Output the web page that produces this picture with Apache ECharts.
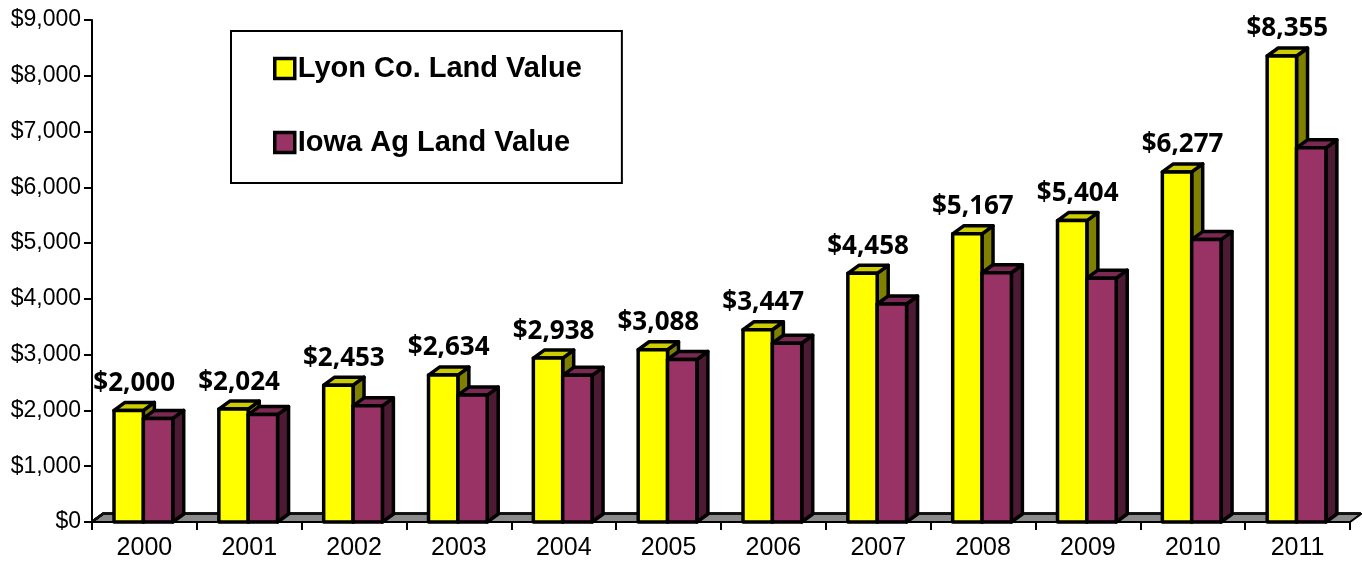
<!DOCTYPE html>
<html>
<head>
<meta charset="utf-8">
<script src="https://cdn.jsdelivr.net/npm/echarts@6/dist/echarts.min.js"></script>
<style>
  html, body { margin: 0; padding: 0; background: #fff; }
  #main { width: 1362px; height: 565px; }
</style>
</head>
<body>
<div id="main"></div>
<script>
var years = ['2000', '2001', '2002', '2003', '2004', '2005', '2006', '2007', '2008', '2009', '2010', '2011'];
var lyonValues = [2000, 2024, 2453, 2634, 2938, 3088, 3447, 4458, 5167, 5404, 6277, 8355];
var iowaValues = [1857, 1926, 2083, 2275, 2629, 2914, 3204, 3908, 4468, 4371, 5064, 6708];
var yTicks = [0, 1000, 2000, 3000, 4000, 5000, 6000, 7000, 8000, 9000];

// depth of the fake 3d look
var DX = 11, DY = 8;

function money(v) {
  return '$' + String(v).replace(/\B(?=(\d{3})+(?!\d))/g, ',');
}

function bar3d(api, idx, value, offset, colors, withLabel) {
  var top = api.coord([idx, value]);
  var base = api.coord([idx, 0]);
  var bw = api.size([1, 0])[0];
  var x0 = top[0] + offset * bw;
  var x1 = x0 + 0.28 * bw;
  var yT = top[1], yB = base[1];
  var stroke = { stroke: '#000', lineWidth: 3.5, lineJoin: 'round' };
  var kids = [
    { type: 'polygon', shape: { points: [[x1, yT], [x1 + DX, yT - DY], [x1 + DX, yB - DY], [x1, yB]] },
      style: Object.assign({ fill: colors[2] }, stroke) },
    { type: 'polygon', shape: { points: [[x0, yT], [x0 + DX, yT - DY], [x1 + DX, yT - DY], [x1, yT]] },
      style: Object.assign({ fill: colors[1] }, stroke) },
    { type: 'rect', shape: { x: x0, y: yT, width: x1 - x0, height: yB - yT },
      style: Object.assign({ fill: colors[0] }, stroke) }
  ];
  if (withLabel) {
    kids.push({
      type: 'text',
      style: {
        x: (x0 + x1) / 2 + DX / 2, y: yT - DY - 6,
        text: money(value), fill: '#000',
        font: 'bold 26px "Open Sans", sans-serif',
        align: 'center', verticalAlign: 'bottom'
      }
    });
  }
  return { type: 'group', children: kids };
}

var chart = echarts.init(document.getElementById('main'));
var option = {
  backgroundColor: '#fff',
  animation: false,
  grid: { left: 92, right: 12, top: 20, bottom: 43 },
  legend: {
    left: 231, top: 31, orient: 'vertical',
    selectedMode: false,
    backgroundColor: '#fff', borderColor: '#000', borderWidth: 2,
    padding: [23, 40, 26, 42], itemGap: 45,
    itemWidth: 20, itemHeight: 20, icon: 'rect',
    textStyle: { fontFamily: 'Liberation Sans, Arial, sans-serif', fontWeight: 'bold', fontSize: 29, color: '#000', padding: [0, 0, 0, -2] },
    data: [
      { name: 'Lyon Co. Land Value', itemStyle: { color: '#FFFF00', borderColor: '#000', borderWidth: 3.5 } },
      { name: 'Iowa Ag Land Value', itemStyle: { color: '#993366', borderColor: '#000', borderWidth: 3.5 } }
    ],
    z: 10
  },
  xAxis: {
    type: 'category', data: years,
    axisLine: { show: true, lineStyle: { color: '#000', width: 2 } },
    axisTick: { show: true, length: 8, lineStyle: { color: '#000', width: 2 } },
    axisLabel: { margin: 14, fontFamily: 'Liberation Sans, Arial, sans-serif', fontSize: 25, color: '#000' },
    splitLine: { show: false },
    z: 5
  },
  yAxis: {
    type: 'value', min: 0, max: 9000, interval: 1000,
    axisLine: { show: true, lineStyle: { color: '#000', width: 2 } },
    axisTick: { show: true, length: 8, lineStyle: { color: '#000', width: 2 } },
    axisLabel: { margin: 11, fontFamily: 'Liberation Sans, Arial, sans-serif', fontSize: 23, color: '#000', formatter: money },
    splitLine: { show: false }
  },
  series: [
    {
      name: 'walls', type: 'custom', z: 1, silent: true,
      data: yTicks,
      renderItem: function (params, api) {
        var v = api.value(0);
        var cs = params.coordSys;
        var y = api.coord([0, v])[1];
        var right = cs.x + cs.width + DX;
        var kids = [];
        if (v === 0) {
          kids.push({ type: 'polygon',
            shape: { points: [[cs.x, y], [cs.x + DX, y - DY], [right, y - DY], [right - DX, y]] },
            style: { fill: '#8a8a8a', stroke: '#000', lineWidth: 2 } });
        }
        kids.push({ type: 'polyline',
          shape: { points: [[cs.x, y], [cs.x + DX, y - DY], [right, y - DY]] },
          style: { stroke: '#111', lineWidth: 2, fill: null } });
        return { type: 'group', children: kids };
      }
    },
    {
      name: 'Lyon Co. Land Value', type: 'custom', z: 2,
      itemStyle: { color: '#FFFF00' },
      data: lyonValues.map(function (v, i) { return [i, v]; }),
      renderItem: function (params, api) {
        return bar3d(api, api.value(0), api.value(1), -0.29, ['#FFFF00', '#CCCC00', '#808000'], true);
      }
    },
    {
      name: 'Iowa Ag Land Value', type: 'custom', z: 3,
      itemStyle: { color: '#993366' },
      data: iowaValues.map(function (v, i) { return [i, v]; }),
      renderItem: function (params, api) {
        return bar3d(api, api.value(0), api.value(1), -0.01, ['#993366', '#7A2952', '#4D1A33'], false);
      }
    }
  ]
};
chart.setOption(option);
</script>
</body>
</html>
